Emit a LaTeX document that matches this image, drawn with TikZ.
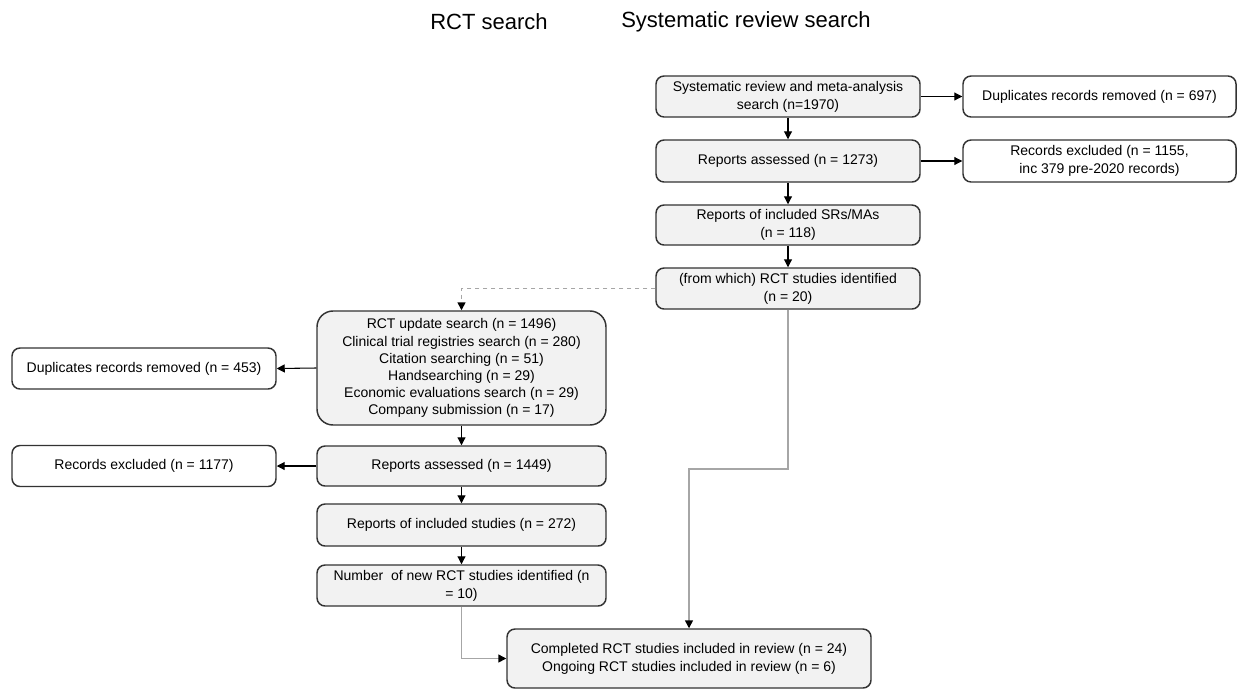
\documentclass[tikz,border=0pt]{standalone}
\usepackage{fontspec}
\setmainfont{Liberation Sans}
\usetikzlibrary{arrows.meta}
\definecolor{boxfill}{HTML}{F2F2F2}
\definecolor{boxline}{HTML}{333333}
\definecolor{grayline}{HTML}{A6A6A6}
\tikzset{
  boxbase/.style={draw=boxline, line width=1.1pt, align=center, inner sep=2pt,
    font=\fontsize{10.5pt}{13.5pt}\selectfont, anchor=center},
  graybox/.style={boxbase, fill=boxfill, rounded corners=6pt},
  whitebox/.style={boxbase, fill=white, rounded corners=6pt},
  arr/.style={draw=black, line width=0.8pt, -{Triangle[length=6pt,width=6pt]}},
  grayarr/.style={draw=grayline, line width=1.1pt, -{Triangle[length=6pt,width=6pt,color=black]}},
  heading/.style={font=\fontsize{16.5pt}{20pt}\selectfont, anchor=center}
}
\begin{document}
\begin{tikzpicture}[x=0.75pt,y=-0.75pt]
\useasboundingbox (0,0) rectangle (1238,690);

\node[heading] (h1) at (489,22) {RCT search};
\node[heading] (h2) at (746,22) {Systematic review search};

% right column
\node[graybox, minimum width=264*0.75pt, minimum height=41*0.75pt] (b1) at (788,96.5)
  {Systematic review and meta-analysis\\search (n=1970)};
\node[graybox, minimum width=264*0.75pt, minimum height=42*0.75pt] (b2) at (788,161)
  {Reports assessed (n = 1273)};
\node[graybox, minimum width=264*0.75pt, minimum height=40*0.75pt] (b3) at (788,225)
  {Reports of included SRs/MAs\\(n = 118)};
\node[graybox, minimum width=264*0.75pt, minimum height=41*0.75pt] (b4) at (788,288.5)
  {(from which) RCT studies identified\\(n = 20)};

\node[whitebox, minimum width=273*0.75pt, minimum height=41*0.75pt] (d1) at (1099.5,96.5)
  {Duplicates records removed (n = 697)};
\node[whitebox, minimum width=273*0.75pt, minimum height=42*0.75pt] (e1) at (1099.5,161)
  {Records excluded (n = 1155,\\inc 379 pre-2020 records)};

% left column
\node[graybox, rounded corners=12pt, minimum width=289*0.75pt, minimum height=114*0.75pt,
  font=\fontsize{10.5pt}{12.8pt}\selectfont] (r1) at (461.5,368)
  {RCT update search (n = 1496)\\Clinical trial registries search (n = 280)\\Citation searching (n = 51)\\Handsearching (n = 29)\\Economic evaluations search (n = 29)\\Company submission (n = 17)};
\node[graybox, minimum width=289*0.75pt, minimum height=40*0.75pt] (r2) at (461.5,466)
  {Reports assessed (n = 1449)};
\node[graybox, minimum width=289*0.75pt, minimum height=42*0.75pt] (r3) at (461.5,525)
  {Reports of included studies (n = 272)};
\node[graybox, minimum width=289*0.75pt, minimum height=41*0.75pt] (r4) at (461.5,585.5)
  {Number\ \ of new RCT studies identified (n\\= 10)};

\node[whitebox, minimum width=264*0.75pt, minimum height=41*0.75pt] (d2) at (144,368.5)
  {Duplicates records removed (n = 453)};
\node[whitebox, minimum width=264*0.75pt, minimum height=41*0.75pt] (e2) at (144,466)
  {Records excluded (n = 1177)};

\node[graybox, minimum width=364*0.75pt, minimum height=59*0.75pt] (fin) at (689,658.5)
  {Completed RCT studies included in review (n = 24)\\Ongoing RCT studies included in review (n = 6)};

% connectors right column
\draw[arr] (b1.east) -- (d1.west);
\draw[arr] (b2.east) -- (e1.west);
\draw[arr] (b1.south) -- (b2.north);
\draw[arr] (b2.south) -- (b3.north);
\draw[arr] (b3.south) -- (b4.north);

% dashed link
\draw[grayarr, dashed] (b4.west) -| (r1.north);

% connectors left column
\draw[arr] (r1.west) -- (d2.east);
\draw[arr] (r2.west) -- (e2.east);
\draw[arr] (r1.south) -- (r2.north);
\draw[arr] (r2.south) -- (r3.north);
\draw[arr] (r3.south) -- (r4.north);

% to final
\draw[grayarr] (r4.south) |- (fin.west);
\coordinate (bend) at (788,469);
\draw[grayarr] (b4.south) -- (bend) -| (fin.north);
\end{tikzpicture}
\end{document}
